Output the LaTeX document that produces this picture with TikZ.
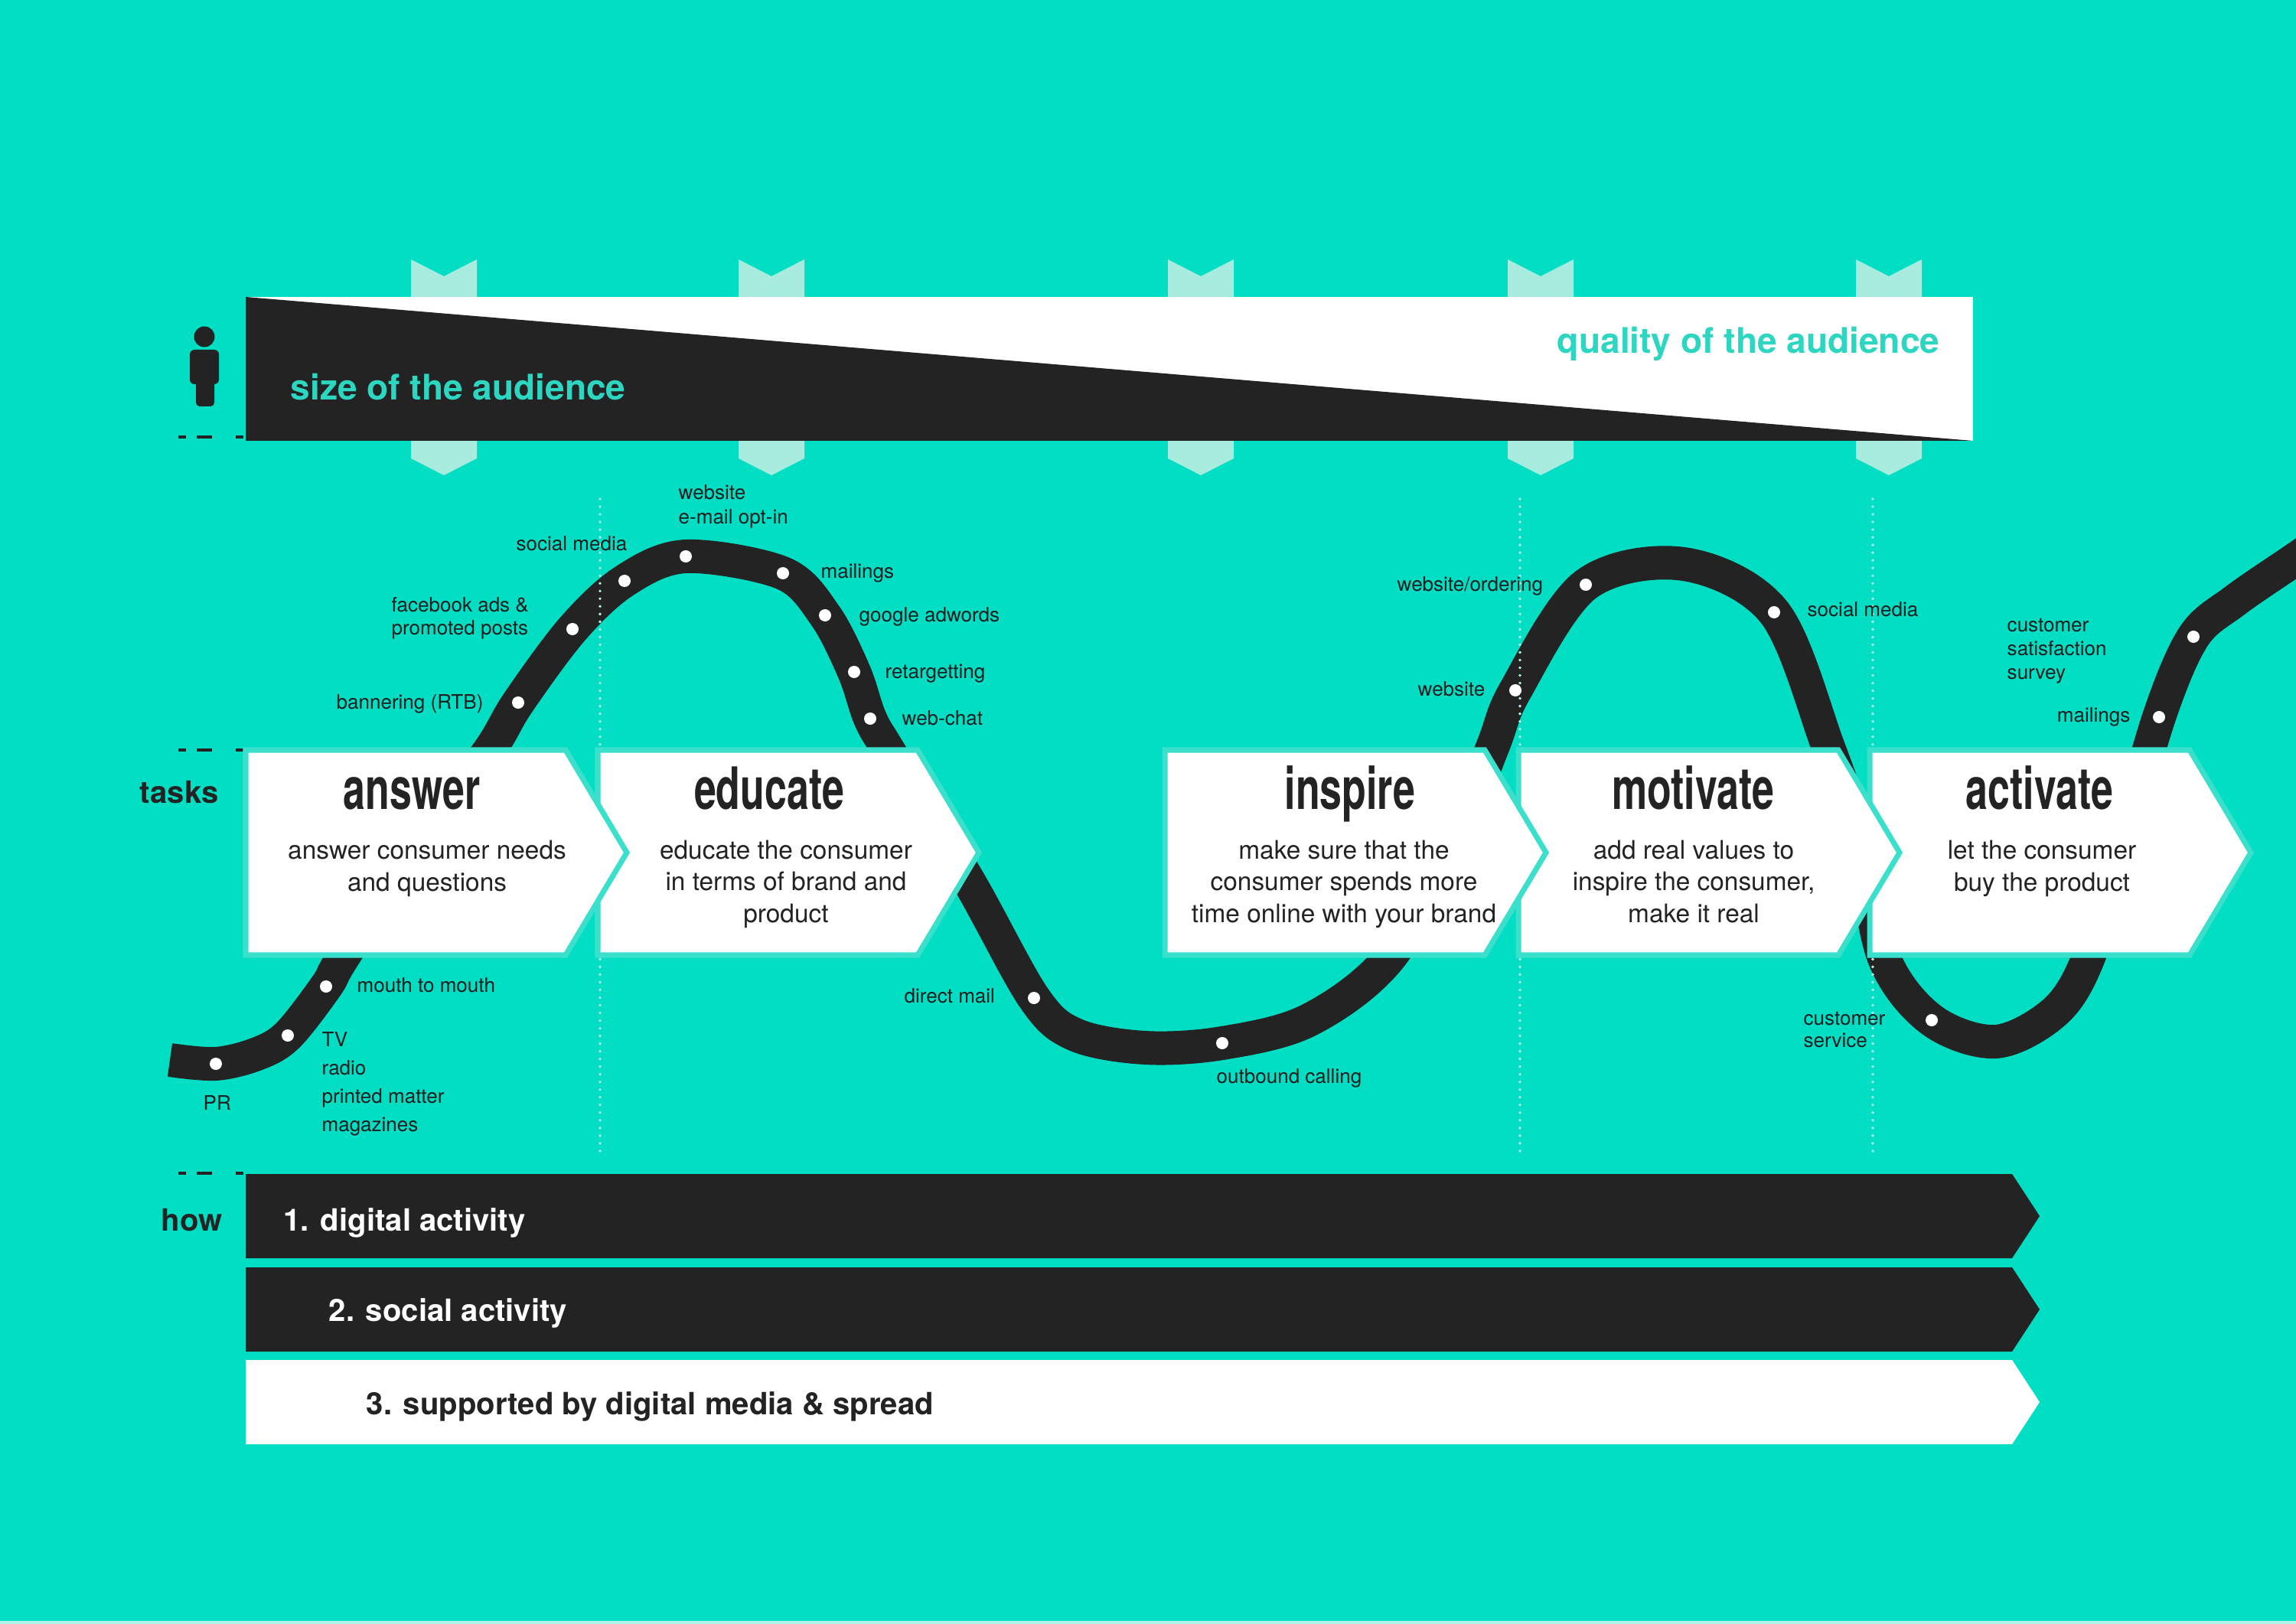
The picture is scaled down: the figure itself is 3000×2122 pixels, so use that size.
\documentclass[tikz,border=0pt]{standalone}
\usepackage{fontspec}
\setmainfont{TeX Gyre Heros}
\newfontfamily\condensada{TeX Gyre Heros}[FakeStretch=0.68]

\definecolor{fondo}{RGB}{2,222,196}
\definecolor{oscuro}{RGB}{35,35,35}
\definecolor{marca}{RGB}{168,236,224}
\definecolor{borde}{RGB}{58,224,204}
\definecolor{turquesa}{RGB}{45,214,192}
\definecolor{punteado}{RGB}{175,242,232}
\definecolor{texto}{RGB}{30,30,30}

\tikzset{
  etiqueta/.style={font=\fontsize{7.4}{8.8}\selectfont, text=texto, inner sep=0pt, anchor=base west, align=left},
  titulo/.style={font=\condensada\bfseries\fontsize{21.7}{24}\selectfont, text=oscuro, inner sep=0pt, anchor=base},
  cuerpo/.style={font=\fontsize{9.5}{11.7}\selectfont, text=oscuro, inner sep=0pt, anchor=base, align=center},
  rotulo/.style={font=\bfseries\fontsize{11.4}{13}\selectfont, inner sep=0pt},
  publico/.style={font=\bfseries\fontsize{13.1}{15}\selectfont, text=turquesa, inner sep=0pt},
  tarea/.style={fill=white, draw=borde, line width=2pt},
  guion/.style={oscuro, line width=1.4pt, dash pattern=on 2.8pt off 4pt on 5.7pt off 8.8pt on 2.8pt off 10pt},
  guia/.style={punteado, line width=1.1pt, line cap=round, dash pattern=on 0pt off 2.85pt},
  camino/.style={oscuro, line width=12.5pt, line join=round},
}

\begin{document}
\begin{tikzpicture}[x=0.01cm, y=-0.01cm]
    \useasboundingbox (0,0) rectangle (3000,2122);
    \fill[fondo] (0,0) rectangle (3000,2122);
    \fill[punteado] (0,2118) rectangle (3000,2122);
    \clip (0,0) rectangle (3000,2122);

    % Marcas claras arriba y abajo de la barra
    \foreach \c in {580,1008,1569,2013,2468} {
        \fill[marca] (\c-43,339) -- (\c,361) -- (\c+43,339) -- (\c+43,400) -- (\c-43,400) -- cycle;
        \fill[marca] (\c-43,560) -- (\c+43,560) -- (\c+43,599) -- (\c,621) -- (\c-43,599) -- cycle;
    }

    % Barra del publico
    \fill[white] (321,388) rectangle (2578,576);
    \fill[oscuro] (321,388) -- (2578,576) -- (321,576) -- cycle;
    \node (size) at (379,523) [publico, anchor=base west] {size of the audience};
    \node (quality) at (2535,462) [publico, anchor=base east] {quality of the audience};

    % Persona
    \fill[oscuro] (267,440) circle[radius=1.35mm];
    \fill[oscuro, rounded corners=0.6mm] (248,457) rectangle (286,502);
    \fill[oscuro, rounded corners=0.5mm] (256,490) rectangle (280,531);

    % Guiones a la izquierda
    \draw[guion] (233,571) -- (321,571);
    \draw[guion] (233,980) -- (321,980);
    \draw[guion] (233,1533) -- (321,1533);

    % Camino
    \draw[camino] plot[smooth, tension=0.55] coordinates {
        (222,1385) (282,1390) (336,1377) (376,1353) (426,1289) (448,1251)
        (540,1110) (637,984) (677,918) (748,822) (816,759) (896,727)
        (1023,749) (1078,804) (1116,878) (1137,939) (1163,984) (1265,1150)
        (1351,1304) (1405,1352) (1496,1369) (1597,1363) (1710,1333) (1815,1252)
        (1900,1100) (1951,974) (1980,902) (2072,764) (2200,737) (2318,800)
        (2388,974) (2430,1100) (2462,1252) (2524,1333) (2608,1361) (2685,1322)
        (2728,1253) (2770,1115) (2821,937) (2866,832) (2920,785) (3000,730) (3080,675)};

    % Lineas punteadas
    \draw[guia] (784,652) -- (784,1512);
    \draw[guia] (1986,652) -- (1986,1512);
    \draw[guia] (2447,652) -- (2447,1512);

    % Puntos del camino
    \foreach \p in {(282,1390),(376,1353),(426,1289),(677,918),(748,822),(816,759),
                    (896,727),(1023,749),(1078,804),(1116,878),(1137,939),(1351,1304),
                    (1597,1363),(1980,902),(2072,764),(2318,800),(2524,1333),
                    (2821,937),(2866,832)} {
        \fill[white] \p circle[radius=0.8mm];
    }

    % Etiquetas del camino (base = ultima linea)
    \node (pr) at (265,1450) [etiqueta] {PR};
    \node (tv) at (420,1478) [etiqueta, font=\fontsize{7.4}{10.5}\selectfont] {TV\\radio\\printed matter\\magazines};
    \node (mouth) at (466,1296) [etiqueta] {mouth to mouth};
    \node (banner) at (439,926) [etiqueta] {bannering (RTB)};
    \node (facebook) at (511,829) [etiqueta, font=\fontsize{7.4}{8.5}\selectfont] {facebook ads \&\\promoted posts};
    \node (social) at (674,719) [etiqueta] {social media};
    \node (website) at (886,685) [etiqueta, font=\fontsize{7.4}{9.1}\selectfont] {website\\e-mail opt-in};
    \node (mailings) at (1072,755) [etiqueta] {mailings};
    \node (google) at (1122,812) [etiqueta] {google adwords};
    \node (retarget) at (1156,886) [etiqueta] {retargetting};
    \node (webchat) at (1178,947) [etiqueta] {web-chat};
    \node (direct) at (1181,1310) [etiqueta] {direct mail};
    \node (outbound) at (1589,1415) [etiqueta] {outbound calling};
    \node (ordering) at (1825,772) [etiqueta] {website/ordering};
    \node (website2) at (1852,909) [etiqueta] {website};
    \node (social2) at (2361,805) [etiqueta] {social media};
    \node (service) at (2356,1368) [etiqueta, font=\fontsize{7.4}{8}\selectfont] {customer\\service};
    \node (survey) at (2622,887) [etiqueta, font=\fontsize{7.4}{8.8}\selectfont] {customer\\satisfaction\\survey};
    \node (mailings2) at (2784,943) [etiqueta, anchor=base east] {mailings};

    % Tareas (de derecha a izquierda)
    \foreach \l in {2443,1984,1522,781,321} {
        \filldraw[tarea] (\l,980) -- (\l+418,980) -- (\l+498,1114) -- (\l+418,1248) -- (\l,1248) -- cycle;
    }
    \node (tasks) at (286,1049) [rotulo, text=oscuro, anchor=base east] {tasks};

    \node (answer) at (538,1057) [titulo] {answer};
    \node (answertxt) at (558,1164) [cuerpo] {answer consumer needs\\and questions};
    \node (educate) at (1005,1057) [titulo] {educate};
    \node (educatetxt) at (1027,1205) [cuerpo] {educate the consumer\\in terms of brand and\\product};
    \node (inspire) at (1764,1057) [titulo] {inspire};
    \node (inspiretxt) at (1756,1205) [cuerpo] {make sure that the\\consumer spends more\\time online with your brand};
    \node (motivate) at (2212,1057) [titulo] {motivate};
    \node (motivatetxt) at (2213,1205) [cuerpo] {add real values to\\inspire the consumer,\\make it real};
    \node (activate) at (2665,1057) [titulo] {activate};
    \node (activatetxt) at (2668,1164) [cuerpo] {let the consumer\\buy the product};

    % Barras de abajo
    \fill[oscuro] (321,1534) -- (2629,1534) -- (2665,1589) -- (2629,1644) -- (321,1644) -- cycle;
    \fill[oscuro] (321,1656) -- (2629,1656) -- (2665,1711) -- (2629,1766) -- (321,1766) -- cycle;
    \fill[white] (321,1777) -- (2629,1777) -- (2665,1832) -- (2629,1887) -- (321,1887) -- cycle;
    \node (how) at (291,1608) [rotulo, text=oscuro, anchor=base east] {how};
    \node (digital) at (370,1608) [rotulo, text=white, anchor=base west] {1. digital activity};
    \node (socialact) at (429,1726) [rotulo, text=white, anchor=base west] {2. social activity};
    \node (supported) at (478,1848) [rotulo, text=oscuro, anchor=base west] {3. supported by digital media \& spread};
\end{tikzpicture}
\end{document}
